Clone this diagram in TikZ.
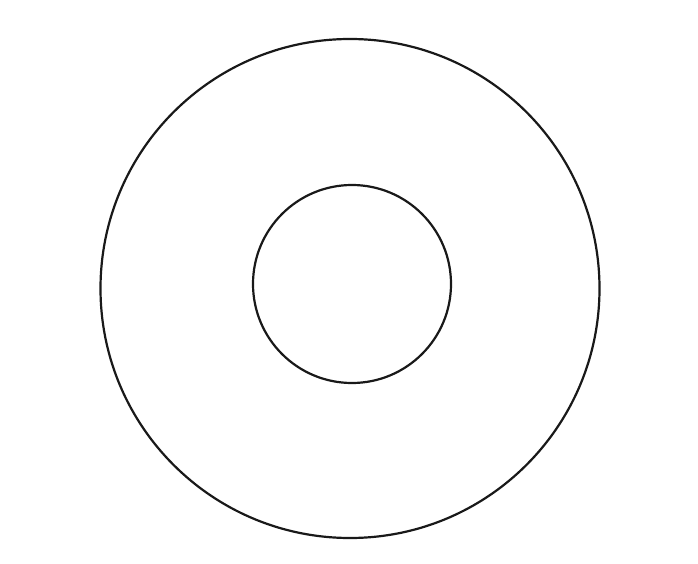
\documentclass[tikz,border=0pt]{standalone}
\begin{document}
\begin{tikzpicture}[x=1pt,y=1pt,
  ring/.style={circle,draw=black!90,line width=2.2pt,inner sep=0pt,outer sep=0pt}]
\useasboundingbox (0,0) rectangle (698,563);
\node[ring,minimum size=499pt] (outer) at (350,274.5) {};
\node[ring,minimum size=198pt] (inner) at (352,279) {};
\end{tikzpicture}
\end{document}
